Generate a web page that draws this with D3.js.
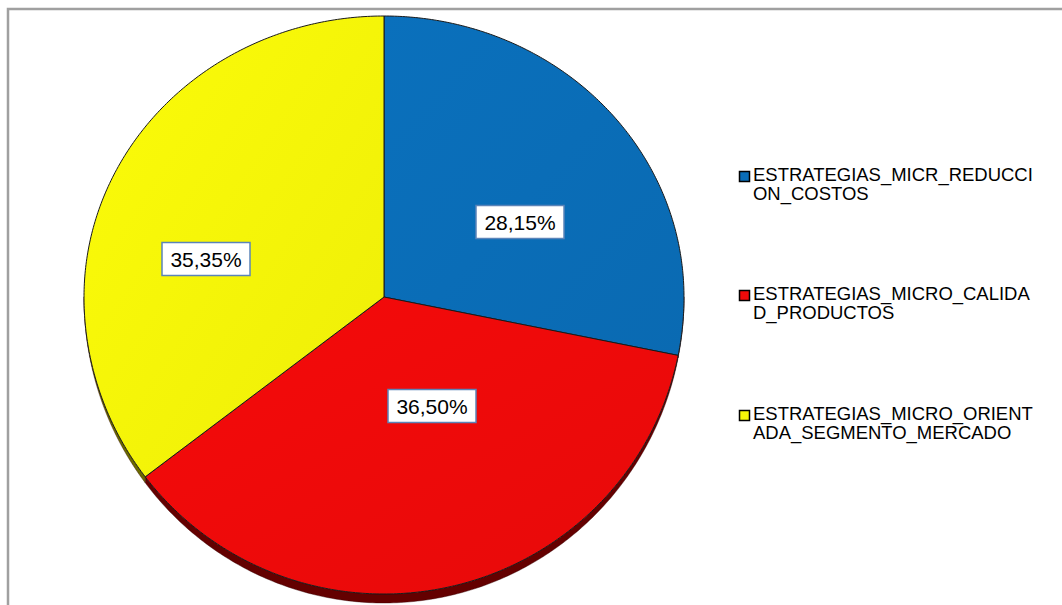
<!DOCTYPE html>
<html><head><meta charset="utf-8">
<script src="https://cdn.jsdelivr.net/npm/d3@7/dist/d3.min.js"></script>
<style>body{margin:0;background:#fff}svg{display:block}</style>
</head><body>
<svg id="c" width="1062" height="605"></svg>
<script>
const categories = ["ESTRATEGIAS_MICR_REDUCCION_COSTOS","ESTRATEGIAS_MICRO_CALIDAD_PRODUCTOS","ESTRATEGIAS_MICRO_ORIENTADA_SEGMENTO_MERCADO"];
const legendLines = [["ESTRATEGIAS_MICR_REDUCCI","ON_COSTOS"],["ESTRATEGIAS_MICRO_CALIDA","D_PRODUCTOS"],["ESTRATEGIAS_MICRO_ORIENT","ADA_SEGMENTO_MERCADO"]];
const values = [28.15, 36.50, 35.35];
const labels = ["28,15%","36,50%","35,35%"];
const colors = ["#0A6DB7","#EE0A0A","#F5F508"];
const sideColors = ["#043a60","#640000","#6a6a00"];

const svg = d3.select("#c");
const defs = svg.append("defs");
colors.forEach((c,i)=>{
  const g = defs.append("linearGradient").attr("id","g"+i).attr("x1","0").attr("y1","0").attr("x2","1").attr("y2","1");
  g.append("stop").attr("offset","0").attr("stop-color",d3.color(c).brighter(0.08));
  g.append("stop").attr("offset","1").attr("stop-color",d3.color(c).darker(0.08));
});

// frame
svg.append("path").attr("d","M8,605 L8,9 L1062,9").attr("fill","none").attr("stroke","#a0a0a0").attr("stroke-width",2.5);

const cx = 384, cy = 297, rx = 300, rTop = 281, rBot = 297, depth = 9;
const P = (t, dy=0) => [cx + rx*Math.sin(t), cy - (Math.cos(t)>0 ? rTop : rBot)*Math.cos(t) + dy];

const arcs = d3.pie().sort(null).value(d=>d)(values);
const line = d3.line();
const N = 200;

// side (3D depth) for bottom half
const sideG = svg.append("g");
arcs.forEach((a,i)=>{
  const s = Math.max(a.startAngle, Math.PI/2), e = Math.min(a.endAngle, 3*Math.PI/2);
  if (e <= s) return;
  const ts = d3.range(N+1).map(k=> s + (e-s)*k/N);
  const dep = t => depth*Math.pow(Math.max(0,-Math.cos(t)),0.8);
  const pts = ts.map(t=>P(t,0)).concat(ts.slice().reverse().map(t=>P(t,dep(t))));
  sideG.append("path").attr("d", line(pts)+"Z").attr("fill", sideColors[i]).attr("stroke","#300").attr("stroke-width",0.4);
});

// top faces
const faceG = svg.append("g");
arcs.forEach((a,i)=>{
  const ts = d3.range(N+1).map(k=> a.startAngle + (a.endAngle-a.startAngle)*k/N);
  const pts = [[cx,cy]].concat(ts.map(t=>P(t)));
  faceG.append("path").attr("d", line(pts)+"Z").attr("fill","url(#g"+i+")")
    .attr("stroke","#1a1a1a").attr("stroke-width",1).attr("stroke-linejoin","round");
});

// labels
const labelPos = [[520,222],[432,406],[206,259]];
const lg = svg.append("g").attr("font-family","'Liberation Sans', Arial, sans-serif").attr("font-size",21);
arcs.forEach((a,i)=>{
  const [x,y] = labelPos[i];
  lg.append("rect").attr("x",x-44).attr("y",y-16.5).attr("width",88).attr("height",33)
    .attr("fill","#fff").attr("stroke","#5b84b9").attr("stroke-width",1.5);
  lg.append("text").attr("x",x).attr("y",y+7.5).attr("text-anchor","middle").attr("fill","#000").text(labels[i]);
});

// legend
const leg = svg.append("g").attr("font-family","'Liberation Sans', Arial, sans-serif").attr("font-size",16.5);
const legY = [181, 300, 420];
categories.forEach((c,i)=>{
  const y = legY[i];
  leg.append("rect").attr("x",739.5).attr("y",y-9.5).attr("width",10).attr("height",10)
    .attr("fill",colors[i]).attr("stroke","#000").attr("stroke-width",1.5);
  legendLines[i].forEach((t,j)=>{
    leg.append("text").attr("transform",`translate(753,${y+j*19}) scale(1.12,1.08)`).attr("fill","#000").text(t);
  });
});
</script>
</body></html>
